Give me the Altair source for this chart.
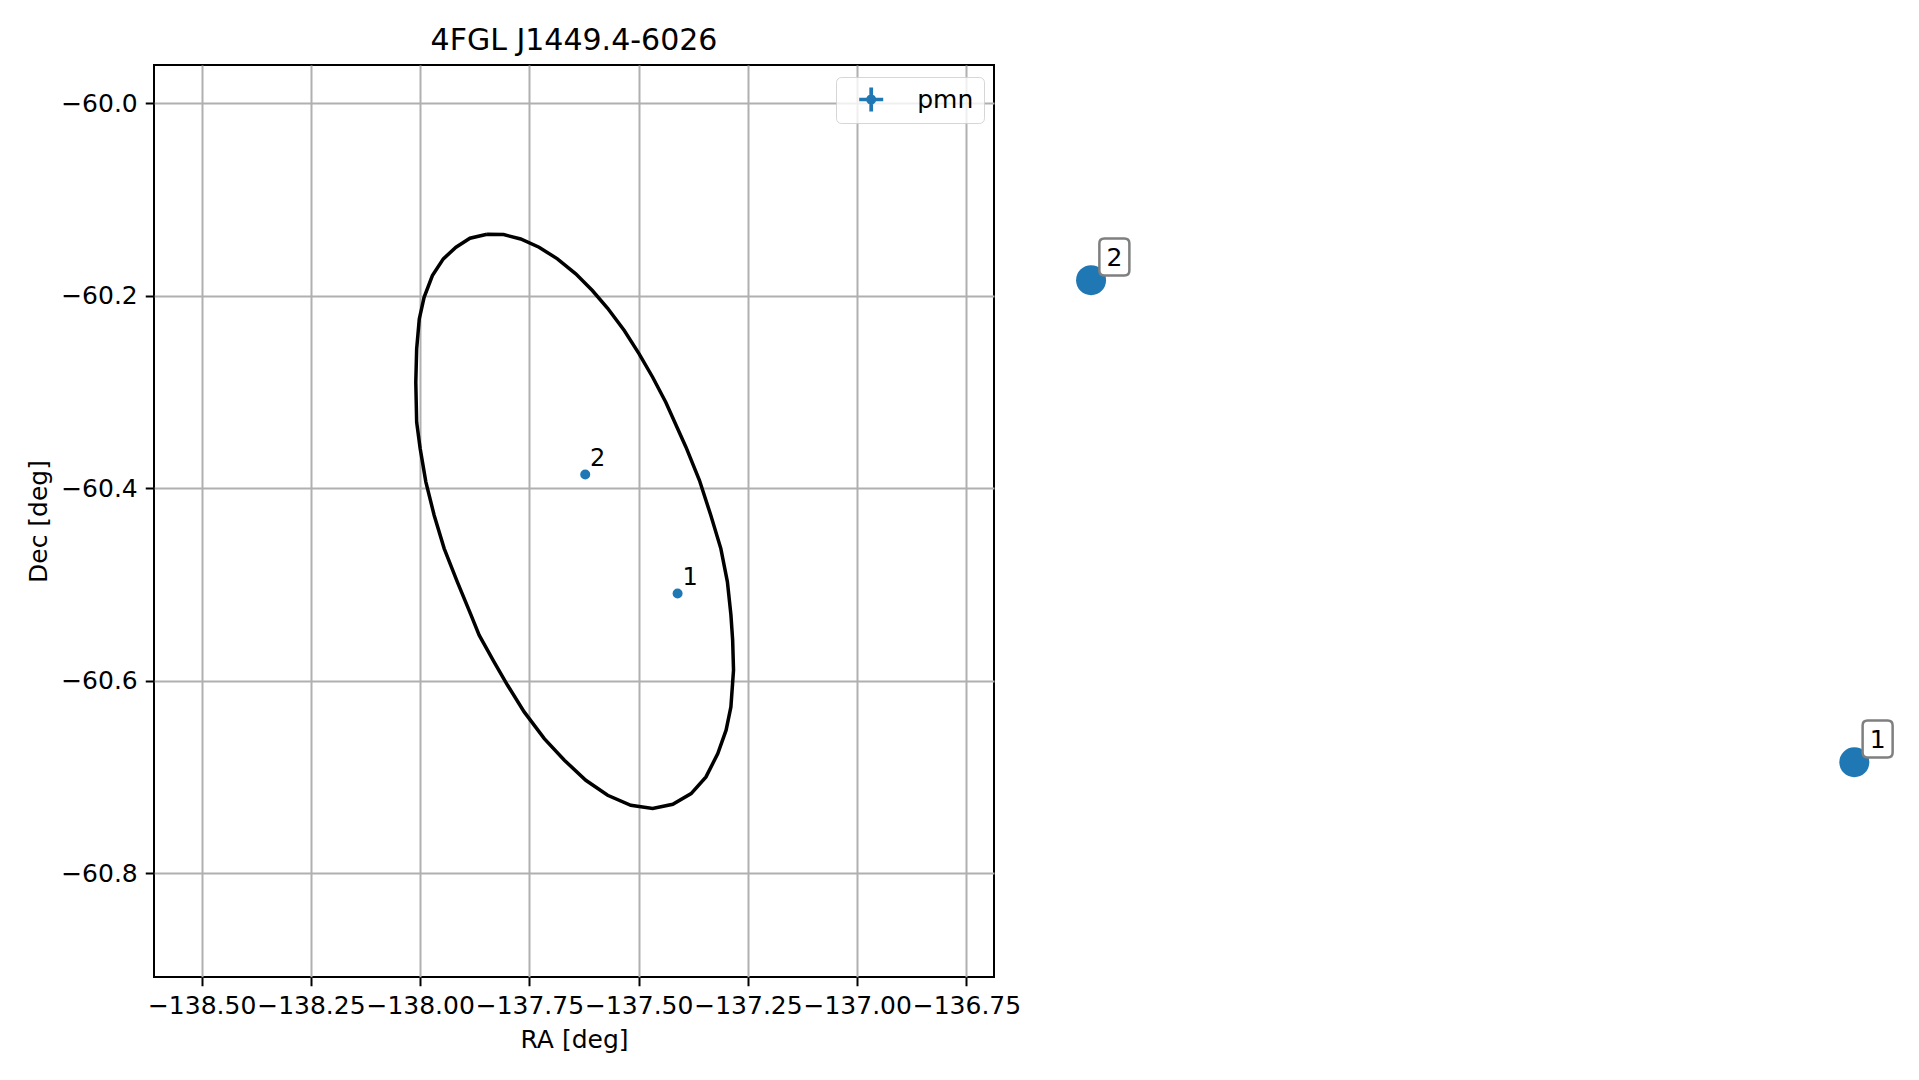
import altair as alt
import pandas as pd

# ---------------- data ----------------
title_text = "4FGL J1449.4-6026"
x_label = "RA [deg]"
y_label = "Dec [deg]"
x_ticks = [-138.5, -138.25, -138.0, -137.75, -137.5, -137.25, -137.0, -136.75]
y_ticks = [-60.8, -60.6, -60.4, -60.2, -60.0]
x_domain = [-138.609, -136.687]
y_domain = [-60.908, -59.9605]

ellipse_ra = [-137.847, -137.809, -137.770, -137.728, -137.686, -137.644, -137.606,
              -137.571, -137.533, -137.499, -137.468, -137.438, -137.392, -137.361,
              -137.335, -137.312, -137.297, -137.289, -137.285, -137.283, -137.289,
              -137.300, -137.319, -137.346, -137.380, -137.422, -137.468, -137.518,
              -137.571, -137.621, -137.670, -137.716, -137.762, -137.800, -137.831,
              -137.865, -137.884, -137.915, -137.945, -137.968, -137.987, -138.000,
              -138.008, -138.010, -138.008, -138.002, -137.991, -137.972, -137.947,
              -137.918, -137.886, -137.847]
ellipse_dec = [-60.1363, -60.1367, -60.1412, -60.1498, -60.1619, -60.1775, -60.1948,
               -60.2132, -60.2364, -60.2606, -60.2849, -60.3109, -60.3573, -60.3919,
               -60.4283, -60.4629, -60.4975, -60.5315, -60.5581, -60.5893, -60.6274,
               -60.6516, -60.6759, -60.7001, -60.7174, -60.7285, -60.7330, -60.7296,
               -60.7192, -60.7036, -60.6828, -60.6603, -60.6326, -60.6049, -60.5806,
               -60.5529, -60.5315, -60.4975, -60.4629, -60.4283, -60.3936, -60.3590,
               -60.3316, -60.2901, -60.2554, -60.2243, -60.2018, -60.1793, -60.1619,
               -60.1498, -60.1405, -60.1363]

series_name = "pmn"
src_id = ["1", "2"]
src_ra = [-137.411, -137.6223]
src_dec = [-60.5096, -60.3860]

big_id = ["1", "2"]
big_ra = [-134.7185, -136.4649]
big_dec = [-60.6849, -60.1841]

BLUE = "#1f77b4"
FONT = "DejaVu Sans"

ell_df = pd.DataFrame({"ra": ellipse_ra, "dec": ellipse_dec,
                       "i": list(range(len(ellipse_ra)))})
src_df = pd.DataFrame({"ra": src_ra, "dec": src_dec, "id": src_id,
                       "series": [series_name] * len(src_id)})
big_df = pd.DataFrame({"ra": big_ra, "dec": big_dec, "id": big_id})

x_enc = alt.X("ra:Q",
              scale=alt.Scale(domain=x_domain, nice=False, zero=False),
              axis=alt.Axis(values=x_ticks, format=".2f", title=x_label))
y_enc = alt.Y("dec:Q",
              scale=alt.Scale(domain=y_domain, nice=False, zero=False),
              axis=alt.Axis(values=y_ticks, format=".1f", title=y_label))

cross_path = ("M-1,-0.156 L1,-0.156 L1,0.156 L-1,0.156 Z "
              "M-0.156,-1 L0.156,-1 L0.156,1 L-0.156,1 Z "
              "M0.42,0 C0.42,0.232 0.232,0.42 0,0.42 C-0.232,0.42 -0.42,0.232 -0.42,0 "
              "C-0.42,-0.232 -0.232,-0.42 0,-0.42 C0.232,-0.42 0.42,-0.232 0.42,0 Z")

box_path = ("M-0.541,-1 L0.541,-1 Q0.811,-1 0.811,-0.73 L0.811,0.73 "
            "Q0.811,1 0.541,1 L-0.541,1 Q-0.811,1 -0.811,0.73 L-0.811,-0.73 "
            "Q-0.811,-1 -0.541,-1 Z")

ellipse = alt.Chart(ell_df).mark_line(color="black", strokeWidth=3.5).encode(
    x=x_enc, y=y_enc, order=alt.Order("i:Q"))

dots = alt.Chart(src_df).mark_circle(size=100, opacity=1).encode(
    x=x_enc, y=y_enc,
    color=alt.Color("series:N",
                    scale=alt.Scale(domain=[series_name], range=[BLUE]),
                    legend=alt.Legend(title=None, orient="none", legendX=682, legendY=12,
                                      symbolType=cross_path, symbolSize=576,
                                      symbolStrokeWidth=0, symbolOpacity=1,
                                      symbolFillColor=BLUE,
                                      symbolOffset=12.7, labelOffset=33.5,
                                      labelFont=FONT, labelFontSize=25,
                                      labelColor="black", padding=10,
                                      cornerRadius=5,
                                      fillColor="rgba(255,255,255,0.8)",
                                      strokeColor="rgba(204,204,204,0.8)")))

dot_labels = alt.Chart(src_df).mark_text(
    font=FONT, fontSize=24, color="black", align="center", baseline="alphabetic",
    dx=12.5, dy=-8.5).encode(x=x_enc, y=y_enc, text="id:N")

big = alt.Chart(big_df).mark_circle(size=900, opacity=1, color=BLUE).encode(
    x=x_enc, y=y_enc)

boxes = alt.Chart(big_df).mark_point(
    shape=box_path, size=37 * 37, filled=True, fill="white", stroke="#7f7f7f",
    strokeWidth=2.5, opacity=1, fillOpacity=1, strokeOpacity=1,
    xOffset=23.3, yOffset=-23.3).encode(x=x_enc, y=y_enc)

big_labels = alt.Chart(big_df).mark_text(
    font=FONT, fontSize=25, color="black", align="center", baseline="alphabetic",
    dx=23.3, dy=-14.2).encode(x=x_enc, y=y_enc, text="id:N")

chart = alt.layer(ellipse, dots, dot_labels, big, boxes, big_labels).properties(
    width=840, height=912,
    padding={"left": 146, "top": 57, "right": 914, "bottom": 80},
    autosize=alt.AutoSizeParams(type="none"),
    background="white",
    title=alt.TitleParams(title_text, font=FONT, fontSize=30, fontWeight="normal",
                          color="black", anchor="middle", frame="group",
                          baseline="alphabetic", offset=-15),
).configure_view(
    stroke="black", strokeWidth=2
).configure_axis(
    domain=False, ticks=True, tickColor="black", tickWidth=2, tickSize=8.75,
    grid=True, gridColor="#b0b0b0", gridWidth=2,
    labelFont=FONT, labelFontSize=25, labelColor="black", labelPadding=8,
    titleFont=FONT, titleFontSize=25, titleFontWeight="normal", titleColor="black",
    titlePadding=9, labelOverlap=False, labelFlush=False
)

chart.save("out.html", embed_options={"renderer": "svg", "actions": False})
